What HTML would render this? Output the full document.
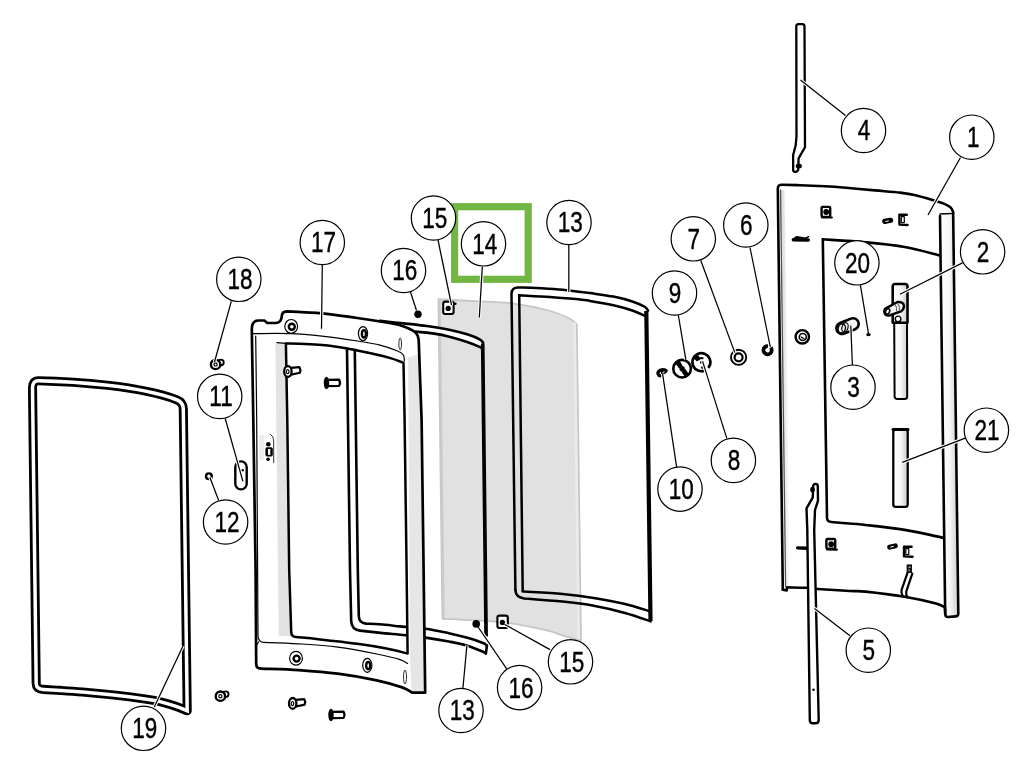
<!DOCTYPE html>
<html lang="en"><head><meta charset="utf-8"><title>Door assembly exploded view</title>
<style>
html,body{margin:0;padding:0;background:#fff}
body{width:1024px;height:781px;overflow:hidden}
svg{display:block}
.k{stroke:#000;stroke-width:2.6;stroke-linejoin:round;stroke-linecap:round}
.m{stroke:#000;stroke-width:1.9;stroke-linejoin:round;stroke-linecap:round}
.t{stroke:#000;stroke-width:1.2;stroke-linejoin:round;stroke-linecap:round}
.k:not([fill]),.m:not([fill]),.t:not([fill]),g.k>path:not([fill]){fill:none}
.lc{fill:#fff;stroke:#000;stroke-width:1.2}
.lt{font-family:"Liberation Sans",Arial,Helvetica,sans-serif;font-size:29px;text-anchor:middle;fill:#000;stroke:#000;stroke-width:.4px}
.ll{fill:none;stroke:#000;stroke-width:1.25}
.lh{fill:none;stroke:#fff;stroke-width:3.4}
#labels{filter:grayscale(1)}
</style></head><body>
<svg width="1024" height="781" viewBox="0 0 1024 781">
<defs><linearGradient id="gt" x1="0" x2="1" y1="0" y2="0"><stop offset="0" stop-color="#fff"/><stop offset=".5" stop-color="#f7f7f7"/><stop offset=".85" stop-color="#d9d9d9"/><stop offset="1" stop-color="#e6e6e6"/></linearGradient><linearGradient id="gl" x1="0" x2="1" y1="0" y2="0"><stop offset="0" stop-color="#d6d6d6"/><stop offset="1" stop-color="#fff"/></linearGradient></defs>
<rect width="1024" height="781" fill="#fff"/>
<g id="glass">
<path d="M438.4 299.2C444.5 299.5 462.4 300.5 475.0 301.2C487.6 301.9 501.5 302.1 513.8 303.6C526.1 305.2 539.5 308.0 548.9 310.5C558.3 313.0 565.4 316.4 570.0 318.7C574.6 321.0 575.7 323.5 576.8 324.5L581 640.8L581.0 640.8C577.6 639.8 566.3 636.5 560.6 634.8C554.9 633.0 555.7 632.3 546.9 630.3C538.1 628.3 518.5 624.4 507.8 622.8C497.2 621.2 493.9 621.5 483.0 620.8C472.1 620.1 449.2 619.1 442.4 618.8Z" fill="#e1e1e1" stroke="#c6c6c6" stroke-width="1.8" stroke-linejoin="round"/>
<path d="M574.6 322.5 L578.6 639" stroke="#ebebeb" stroke-width="2.6" fill="none"/>
<path d="M439.6 300 L443.6 618" stroke="#cbcbcb" stroke-width="2.2" fill="none"/>
</g>
<path d="M32.5 388 Q32.4 380.7 38.4 380.7 C75 381.4 140 386 176 399.5 Q183.2 402.2 183.3 408.6 L187.2 710.8 L187.2 710.8C185.3 710.1 180.5 707.9 176.0 706.4C171.5 704.9 165.2 702.9 160.0 701.6C154.8 700.4 152.7 700.0 145.0 698.9C137.3 697.8 124.2 696.1 113.8 695.0C103.3 693.9 91.5 692.8 82.5 692.0C73.5 691.2 66.6 690.8 60.0 690.4C53.4 690.0 45.8 689.6 43.0 689.4Q36.3 689 36.2 683.5 Z" fill="none" stroke="#000" stroke-width="9.1" stroke-linejoin="round"/>
<path d="M32.5 388 Q32.4 380.7 38.4 380.7 C75 381.4 140 386 176 399.5 Q183.2 402.2 183.3 408.6 L187.2 710.8 L187.2 710.8C185.3 710.1 180.5 707.9 176.0 706.4C171.5 704.9 165.2 702.9 160.0 701.6C154.8 700.4 152.7 700.0 145.0 698.9C137.3 697.8 124.2 696.1 113.8 695.0C103.3 693.9 91.5 692.8 82.5 692.0C73.5 691.2 66.6 690.8 60.0 690.4C53.4 690.0 45.8 689.6 43.0 689.4Q36.3 689 36.2 683.5 Z" fill="none" stroke="#fff" stroke-width="3.5" stroke-linejoin="miter" stroke-miterlimit="8"/>
<path fill="#fff" d="M380.0 320.9C383.9 321.3 395.6 322.5 403.4 323.4C411.2 324.2 419.1 324.9 426.9 326.0C434.7 327.1 443.5 328.5 450.3 329.9C457.1 331.3 463.0 333.0 467.9 334.6C472.8 336.2 477.1 338.0 479.6 339.3C482.1 340.6 482.5 342.1 483.1 342.6L482 348.6L479.6 346.9L467.9 342.2L450.3 336.9L432.7 333.4L415.2 331.6Z"/>
<path fill="#fff" d="M425.4 628.8C429.3 629.5 441.6 631.7 448.8 633.2C456.0 634.8 462.7 636.5 468.4 638.1C474.1 639.7 479.9 641.8 483.0 643.0C486.1 644.2 486.2 645.2 486.9 645.6L485.9 653.7L483 651.8L466.4 645.4L448.8 641.5L425.4 637.6Z"/>
<g id="g13l" class="k">
<path d="M347 349.5 L350 570 L351.2 621 Q351.5 629.6 360 630.6 L360.0 630.6C364.2 631.1 378.3 632.7 385.0 633.4C391.7 634.1 393.3 634.0 400.0 634.7C406.7 635.4 417.3 636.5 425.4 637.6C433.5 638.7 442.0 640.2 448.8 641.5C455.6 642.8 460.7 643.7 466.4 645.4C472.1 647.1 479.8 650.4 483.0 651.8C486.2 653.2 485.4 653.4 485.9 653.7 L486.9 645.6"/>
<path d="M354.8 351 L357.8 570 L358.8 616 Q359 623 366 623.6 L366.0 623.6C369.2 623.8 379.3 624.3 385.0 624.8C390.7 625.3 393.3 625.7 400.0 626.4C406.7 627.1 417.3 627.7 425.4 628.8C433.5 629.9 441.6 631.7 448.8 633.2C456.0 634.8 462.7 636.5 468.4 638.1C474.1 639.7 479.9 641.8 483.0 643.0C486.1 644.2 486.2 645.2 486.9 645.6"/>
<path d="M380.0 320.9C383.9 321.3 395.6 322.5 403.4 323.4C411.2 324.2 419.1 324.9 426.9 326.0C434.7 327.1 443.5 328.5 450.3 329.9C457.1 331.3 463.0 333.0 467.9 334.6C472.8 336.2 477.1 338.0 479.6 339.3C482.1 340.6 482.5 342.1 483.1 342.6"/>
<path d="M415.2 331.6C418.1 331.9 426.8 332.5 432.7 333.4C438.6 334.3 444.4 335.4 450.3 336.9C456.2 338.4 463.0 340.5 467.9 342.2C472.8 343.9 477.2 345.8 479.6 346.9C482.0 348.0 481.6 348.3 482.0 348.6"/>
</g>
<path d="M482.7 343.5 L486.1 636.6" fill="none" stroke="#000" stroke-width="3.7" stroke-linecap="butt"/>
<g id="frame17">
<path d="M275.4 343 L285.9 343.4 L291 636.4 L278.7 635.8 Z" fill="#e3e3e3"/>
<path d="M404 362 L409 357 L411.4 693 L407.6 653.4 Z" fill="#fff"/>
<path d="M408.2 357.5 L418.9 354 L425.2 692.7 L411.9 693 L410 661 L409.4 560 Z" fill="#e6e6e6"/>
<path class="k" style="stroke-width:2.7" d="M256.2 664 L255.6 570 L253.3 420 L251.8 330 Q251.7 320.6 258 320.5 L264.4 320.5 L267.3 323 L276 323 Q281.5 322.6 281.8 316 Q282 311.4 287 311.3 L287.0 311.3C292.8 311.6 310.3 312.2 322.0 313.3C333.7 314.4 346.4 316.5 357.2 318.0C367.9 319.5 379.4 321.3 386.5 322.5C393.6 323.7 396.2 324.2 400.0 325.2C403.8 326.2 406.8 327.5 409.3 328.7C411.8 329.9 413.8 331.0 415.2 332.2C416.6 333.4 417.4 335.4 417.8 336.0L418.7 340 L421.6 420 L423.6 570 L425.2 692.7 L411.9 692.6C410.3 691.7 408.0 689.4 402.1 687.4C396.2 685.4 387.4 682.7 376.7 680.4C366.0 678.1 350.7 675.4 337.7 673.7C324.7 672.0 311.4 671.0 298.6 670.1C285.8 669.2 267.3 668.9 261.0 668.6Q256.3 668.5 256.2 664 Z"/>
<path class="k" style="stroke-width:2.5" d="M285.9 343.4C289.1 343.5 299.0 343.6 305.0 343.9C311.0 344.1 316.2 344.3 322.0 344.9C327.8 345.4 334.1 346.3 340.0 347.2C345.9 348.1 352.1 349.4 357.2 350.4C362.3 351.4 365.0 352.0 370.7 353.3C376.4 354.6 385.7 356.8 391.2 358.4C396.7 360.0 401.4 362.1 403.5 362.8 L404.6 420 L406.6 570 L407.6 653.6C404.1 652.8 394.9 650.1 386.5 648.5C378.1 646.9 368.6 645.3 357.2 643.8C345.8 642.2 328.3 640.3 318.1 639.2C307.9 638.1 299.7 637.4 296.0 637.0Q291.3 636.6 291.2 632 L289.2 570 L287.3 420 Z"/>
<path class="t" d="M253.0 333.6C259.2 333.6 278.5 333.2 290.0 333.6C301.5 334.0 310.8 334.9 322.0 336.1C333.2 337.3 347.5 339.5 357.2 341.0C366.9 342.5 373.3 343.4 380.0 345.1C386.7 346.8 393.7 349.4 397.6 351.0C401.5 352.6 402.3 353.3 403.4 355.0C404.5 356.7 404.2 360.0 404.4 361.0"/>
<path class="t" d="M255.7 336 L256.7 420 L258 636 Q258.3 642.2 264 642.4 L264.0 642.4C269.8 642.6 286.3 643.0 298.6 643.8C310.9 644.6 324.7 645.4 337.7 647.1C350.7 648.8 366.3 651.9 376.7 654.0C387.1 656.1 394.9 658.0 400.0 659.6C405.1 661.2 406.3 662.9 407.6 663.5"/>
<path class="t" d="M277 342.6 L286 343.4"/>
<path class="t" d="M255.4 647 L258.6 642"/>
<ellipse class="t" cx="291.2" cy="326.4" rx="6.4" ry="6.9" fill="#fff"/><circle class="m" style="stroke-width:2.4" cx="291.8" cy="326.7" r="3"/>
<ellipse class="t" cx="363" cy="333.6" rx="4.6" ry="7" fill="#fff"/><ellipse class="m" style="stroke-width:2.4" cx="363.9" cy="333.90000000000003" rx="2" ry="3.6"/>
<ellipse class="t" style="stroke-width:.8" cx="400.2" cy="344" rx="1.3" ry="6"/>
<ellipse class="t" cx="296" cy="658.3" rx="6.4" ry="6.9" fill="#fff"/><circle class="m" style="stroke-width:2.4" cx="296.6" cy="658.5999999999999" r="3"/>
<ellipse class="t" cx="367.3" cy="665.3" rx="4.6" ry="7" fill="#fff"/><ellipse class="m" style="stroke-width:2.4" cx="368.2" cy="665.5999999999999" rx="2" ry="3.6"/>
<ellipse class="t" style="stroke-width:.8" cx="405" cy="677" rx="1.5" ry="7"/>
<rect x="259.2" y="435" width="5" height="25" rx="1.5" fill="#ededed"/>
<rect x="265.4" y="447.2" width="7.4" height="9.2" rx="1.6" fill="#000"/><rect x="268" y="449.1" width="2.3" height="5.7" fill="#fff"/><circle cx="268.3" cy="444.3" r="2.3" fill="#000"/><circle cx="268.1" cy="459.2" r="1.8" fill="#000"/>
<path class="t" style="stroke-width:.8" d="M270.4 434.3 Q273.8 436 273.7 441 L273.7 462.6"/>
</g>
<path class="m" style="stroke-width:2.2" fill="#fff" d="M287.9 368.2 L299.4 367.2 Q301.2 370.0 299.9 372.7 L288.9 375.1 Z"/><ellipse class="m" style="stroke-width:2.3" fill="#fff" cx="287.9" cy="371.5" rx="3.7" ry="5.4"/><ellipse class="t" cx="287.7" cy="371.7" rx="1.3" ry="2"/>
<path class="m" style="stroke-width:2.2" fill="#fff" d="M327 379.8 L339 379.6 Q341 383 339 386 L327 386.2 Z"/><ellipse cx="326.5" cy="383" rx="2.7" ry="6.2" fill="#000"/>
<path class="m" style="stroke-width:2.2" fill="#fff" d="M292.7 700.1 L304.2 699.1 Q306.0 701.9 304.7 704.6 L293.7 707.0 Z"/><ellipse class="m" style="stroke-width:2.3" fill="#fff" cx="292.7" cy="703.4" rx="3.7" ry="5.4"/><ellipse class="t" cx="292.5" cy="703.6" rx="1.3" ry="2"/>
<path class="m" style="stroke-width:2.2" fill="#fff" d="M331.5 711.8 L343.5 711.6 Q345.5 715 343.5 718 L331.5 718.2 Z"/><ellipse cx="331.0" cy="715" rx="2.7" ry="6.2" fill="#000"/>
<circle class="m" fill="#fff" cx="220.9" cy="362.4" r="2.8"/><circle class="m" style="stroke-width:2.4" fill="#fff" cx="215.6" cy="364.4" r="4.7"/><circle class="t" cx="215.6" cy="364.4" r="1.6"/>
<circle class="m" fill="#fff" cx="225.70000000000002" cy="694.2" r="2.8"/><circle class="m" style="stroke-width:2.4" fill="#fff" cx="220.4" cy="696.2" r="4.7"/><circle class="t" cx="220.4" cy="696.2" r="1.6"/>
<rect class="m" style="stroke-width:2.4" x="235.3" y="461.4" width="11.4" height="28" rx="5.6" fill="#fff"/>
<circle cx="242.6" cy="470.2" r="1.3" fill="#000"/>
<circle class="m" style="stroke-width:2.3" cx="208.9" cy="476.3" r="2.9" fill="#fff"/>
<g id="g13r" class="k" style="stroke-width:2.5">
<path d="M515.4 590 L511.5 294 Q511.6 287.4 518 287.4 L518.0 287.4C522.5 287.6 536.9 288.1 545.0 288.6C553.1 289.1 558.9 289.4 566.4 290.2C573.9 290.9 582.2 292.0 590.0 293.1C597.8 294.2 606.2 295.2 613.4 296.6C620.6 298.0 627.8 300.0 633.0 301.7C638.2 303.4 642.2 305.3 644.7 306.8C647.2 308.3 647.5 310.0 648.0 310.6"/>
<path d="M515.4 590 Q515.6 597.2 524 598.4 L524.0 598.4C530.4 598.9 550.9 600.4 562.5 601.6C574.1 602.8 583.3 603.9 593.8 605.8C604.2 607.7 615.5 610.4 625.0 613.0C634.5 615.6 646.3 620.0 650.6 621.4"/>
<path style="stroke-linejoin:miter" d="M522.7 591.3 L519.2 295.3 L519.2 295.3C524.3 295.6 539.9 296.3 550.0 297.0C560.1 297.7 573.3 298.9 580.0 299.5C586.7 300.1 584.4 299.9 590.0 300.9C595.6 301.8 606.2 303.6 613.4 305.2C620.6 306.8 627.6 308.8 633.0 310.7C638.4 312.6 643.8 315.4 646.0 316.4"/>
<path style="stroke-linejoin:miter" d="M522.7 591.3 L524.5 591.5C530.8 591.9 551.0 592.8 562.5 593.9C574.0 595.0 583.3 596.2 593.8 597.9C604.2 599.6 615.8 601.8 625.0 604.0C634.2 606.2 645.0 609.8 649.0 611.0"/>
</g>
<path d="M646.3 311 L650.5 621" fill="none" stroke="#000" stroke-width="4.2"/>
<rect class="m" style="stroke-width:2.1" x="443.2" y="301.6" width="10.4" height="12.4" rx="2" fill="#fff"/><circle cx="448.2" cy="308.40000000000003" r="2.6" fill="#000"/>
<circle cx="455.3" cy="303.8" r="1.3" fill="#000"/>
<rect class="m" style="stroke-width:2.1" x="497.4" y="615.6" width="10.4" height="12.4" rx="2" fill="#fff"/><circle cx="502.4" cy="622.4" r="2.6" fill="#000"/>
<circle cx="767.6" cy="350.2" r="4.1" fill="none" stroke="#000" stroke-width="3.8" stroke-dasharray="22 3.8" transform="rotate(-40 767.6 350.2)"/>
<circle class="m" cx="738.6" cy="357.3" r="7.6" fill="#fff"/><circle cx="738.6" cy="357.3" r="4" fill="#fff" stroke="#000" stroke-width="2.2"/>
<circle cx="701.3" cy="362.2" r="9" fill="#fff" stroke="#000" stroke-width="2.7" stroke-dasharray="52 4.5" transform="rotate(66 701.3 362.2)"/>
<path d="M693.6 358.5 Q694.2 354.6 697.8 354.4 L700.6 358.8 L697 361.6 Z" fill="#000"/>
<path d="M698.4 360 q2 -3 5 -1.4 M700 362.6 l3.6 0.2" fill="none" stroke="#000" stroke-width="2"/><circle cx="702.4" cy="367.6" r="1.3" fill="#000"/>
<circle cx="682.1" cy="368.7" r="8.8" fill="#fff" stroke="#000" stroke-width="2.6"/>
<path d="M675.6 363.6 Q676.6 360.8 679.4 360.6 L682.6 365.6 L679 368.6 Z M688.6 373.8 Q687.6 376.6 684.8 376.8 L681.6 371.8 L685.2 368.8 Z" fill="#000"/><circle cx="682.1" cy="368.7" r="2.7" fill="#000"/>
<path d="M666.2 370.6 Q663 368.6 659.6 370.6 Q656.8 372.6 658.6 375.2 Q660.6 376.6 662.2 374.6" fill="none" stroke="#000" stroke-width="3.1" stroke-linecap="round"/>
<ellipse cx="663.9" cy="371.8" rx="2.4" ry="1.5" fill="none" stroke="#000" stroke-width="1.6" transform="rotate(-25 663.9 371.8)"/>
<path class="k" style="stroke-width:2.3" fill="#fff" d="M796.3 26.4 Q796.3 24.1 798.6 24.1 L802.2 24.1 Q804.5 24.1 804.5 26.4 L805 147.3 L798.6 158.4 L798.2 170 Q795.6 173.6 793.2 170.7 L793.1 155.3 L795.7 145.3 L796.5 136 Z"/>
<ellipse cx="798.8" cy="166" rx="3.1" ry="2.5" fill="#000"/>
<g id="door">
<path d="M780.4 190 L784.6 190 L790 587 L785.6 587 Z" fill="url(#gl)"/>
<path d="M941 216 L953 214 L958.2 616 L945.4 617 Z" fill="url(#gt)"/>
<path class="k" d="M782.8 589.8 L777.8 188.6 Q777.8 184.8 781.9 184.8 L781.9 184.8C784.9 184.9 792.8 185.0 800.0 185.2C807.2 185.4 817.3 185.8 825.0 186.2C832.7 186.6 837.7 187.0 846.0 187.7C854.3 188.4 866.0 189.6 875.0 190.4C884.0 191.2 893.2 191.8 900.0 192.6C906.8 193.4 910.0 193.9 915.6 195.2C921.2 196.5 928.9 198.9 933.6 200.3C938.3 201.7 940.9 202.4 943.8 203.6C946.6 204.8 949.0 206.2 950.6 207.6C952.2 209.0 952.8 211.3 953.2 212.0L953.2 217 L958.3 613.5 Q958.3 616.3 955.5 616.4 L948 617 Q945.4 617 945.3 614.5 L944.9 607.4"/>
<path class="k" d="M940 216 L945.2 614"/>
<path class="m" style="stroke-width:1.5" d="M940 214 L952 213.6"/>
<path class="t" style="stroke:#555;stroke-width:1.3" d="M780.5 190 L785.6 586.8"/>
<path class="k" d="M782.8 589.8 L786.6 590.4 L787.2 587.4 L787.2 587.4C790.3 587.5 800.8 587.5 805.8 587.8C810.8 588.1 810.0 588.5 817.4 589.0C824.8 589.5 842.0 590.6 850.0 591.0C858.0 591.4 856.6 590.6 865.7 591.6C874.8 592.6 893.0 594.7 904.7 596.7C916.4 598.7 929.3 601.7 936.0 603.5C942.7 605.3 943.4 606.8 944.9 607.4"/>
<path class="k" style="stroke-linejoin:miter" d="M939.4 255.3C933.6 253.9 917.0 249.2 904.7 247.0C892.4 244.8 879.4 243.6 865.7 242.3C852.1 241.0 829.9 239.8 822.8 239.3 L827 518 Q827.1 521.7 831.5 522 L831.5 522.0C832.9 522.1 834.3 522.3 840.0 522.8C845.7 523.3 854.9 523.8 865.7 525.0C876.5 526.2 891.8 527.8 904.7 529.9C917.6 532.0 936.8 536.5 943.2 537.8"/>
<rect class="m" style="stroke-width:2.4" x="821.6" y="206.9" width="8.6" height="10" rx="1.2" fill="#fff"/><circle cx="826.2" cy="212" r="2.9" fill="#000"/><path class="m" style="stroke-width:2.2" d="M822 217.3 L831.8 217.5"/>
<path d="M794 238.6 L796.4 236.9 L805.6 238.2 L808.6 236.6" class="m" style="stroke-width:1.6"/><path d="M793.4 239.8 L808.2 240" stroke="#000" stroke-width="3.6" stroke-linecap="round"/>
<path d="M884.8 221.4 L890.6 220.3" stroke="#000" stroke-width="5.2" stroke-linecap="round"/><path d="M885.8 221.4 L888.4 220.9" stroke="#fff" stroke-width="1" stroke-linecap="round"/>
<path class="m" style="stroke-width:2.4" d="M906.8 214.8 L899.4 214.8 L899.4 224.6 L907.6 225"/><rect class="t" x="901.3" y="216.6" width="3" height="6" />
<rect class="m" style="stroke-width:2.4" x="826.4" y="539" width="8.8" height="9.8" rx="1.2" fill="#fff"/><circle cx="831.2" cy="544.2" r="2.9" fill="#000"/><path class="m" style="stroke-width:2.2" d="M827 549.5 L836.8 549.7"/>
<path d="M797.6 547.9 L806.5 548.2" stroke="#000" stroke-width="3.4" stroke-linecap="round"/>
<path d="M889.6 547.2 L895.4 545.8" stroke="#000" stroke-width="4.8" stroke-linecap="round"/><path d="M890.6 547.1 L893.4 546.4" stroke="#fff" stroke-width="1" stroke-linecap="round"/>
<path class="m" style="stroke-width:2.4" d="M911.6 546.8 L904 546.8 L904 556.4 L912.6 556.8"/><rect class="t" x="905.8" y="548.6" width="3" height="6" />
<rect x="906.6" y="564.4" width="5.4" height="8.6" fill="#111"/><rect x="908.6" y="566.6" width="2" height="1.4" fill="#aaa"/><rect x="908.4" y="569.4" width="1.6" height="1.8" fill="#888"/>
<path class="m" style="stroke-width:2.2" d="M907.5 572.8 L901.5 590.2 Q901 593.2 902.8 596 M912.3 573.6 L906.3 591.4 Q905.8 594.6 907.3 597.2"/>
<circle class="m" style="stroke-width:2.4" cx="802.3" cy="336.8" r="6.7" fill="#fff"/><circle class="m" style="stroke-width:1.6" cx="802.8" cy="337" r="3.5"/><path d="M802.6 337 m-2 -1 a3 3 0 0 0 4.4 2.6 Z" fill="#000"/>
<path class="m" style="stroke-width:2" fill="url(#gt)" d="M894.2 321 L894.6 396.5 Q894.7 399 897.4 399 L904.4 399 Q907.2 399 907.2 396.5 L907 321 Z"/>
<path class="k" style="stroke-width:2.6" fill="url(#gt)" d="M892.7 322.8 L892.7 286.5 Q892.7 284 895.2 284 L905 284 Q907.5 284 907.5 286.5 L907.5 322.8 Z"/>
<circle class="m" style="stroke-width:1.4" cx="898.1" cy="318.9" r="2.8" fill="#fff"/>
<path class="k" style="stroke-width:2.5" fill="#f4f4f4" d="M885.9 308.3 L897.4 302 Q903.6 301.4 904 306 Q903.8 309.8 900.8 311.3 L890.4 315.2 Q885.6 316.2 884.5 312.8 Q883.9 309.8 885.9 308.3 Z"/>
<path class="t" style="stroke:#666" d="M895.2 304.6 Q897 307 896.6 311 M898 303.8 Q899.8 306 899.4 310"/>
<ellipse cx="887.6" cy="311.4" rx="2" ry="2.8" transform="rotate(20 887.6 311.4)" fill="#fff" stroke="#000" stroke-width="1.7"/>
<path d="M842.1 328.3 L853 323.9" stroke="#000" stroke-width="14" stroke-linecap="round"/><path d="M842.1 328.3 L853 323.9" stroke="#f2f2f2" stroke-width="8.8" stroke-linecap="round"/>
<ellipse class="t" cx="845" cy="327.4" rx="3" ry="4.8" transform="rotate(15 845 327.4)"/>
<ellipse cx="841.8" cy="328.4" rx="3.6" ry="4.6" transform="rotate(15 841.8 328.4)" fill="none" stroke="#000" stroke-width="1.4"/>
<rect class="k" style="stroke-width:2.3" x="893.3" y="429.6" width="14.4" height="77.2" rx="2.4" fill="url(#gt)"/><path d="M893 429.6 L908 429.6" stroke="#000" stroke-width="3" stroke-linecap="round"/>
</g>
<path class="k" style="stroke-width:2.4" fill="#fff" d="M813.2 486 Q813.6 483.6 816 484 Q817.8 484.2 817.8 486.4 L818 500.7 L815 510 L814.2 530 L818.7 720 Q818.7 723.3 815.5 723.3 L812.5 723.3 Q809.9 723.3 809.8 720 L807.3 530 L806.5 508.4 L812.7 497.6 L813 492 Z"/>
<ellipse cx="812.5" cy="489.6" rx="2.3" ry="2.9" fill="#000"/><circle cx="813.5" cy="689.8" r="1.3" fill="#000"/>
<rect x="454.6" y="206.7" width="73.6" height="72.6" fill="none" stroke="#72b743" stroke-width="7.2"/>
<g id="labels">
<path class="lh" d="M960.5 157.5L928 215"/><path class="ll" d="M960.5 157.5L928 215"/>
<circle class="lc" cx="971.8" cy="137.2" r="22.2"/><text class="lt" transform="translate(973.15 147.10) scale(0.776 1)">1</text>
<path class="lh" d="M962.5 262.9L900 294.3"/><path class="ll" d="M962.5 262.9L900 294.3"/>
<circle class="lc" cx="982.6" cy="251.8" r="22.2"/><text class="lt" transform="translate(983.10 261.70) scale(0.776 1)">2</text>
<path class="lh" d="M852.4 365.3L850.8 325.6"/><path class="ll" d="M852.4 365.3L850.8 325.6"/>
<circle class="lc" cx="853" cy="387.2" r="22.2"/><text class="lt" transform="translate(853.50 397.10) scale(0.776 1)">3</text>
<path class="lh" d="M845.5 115.5L800.5 80"/><path class="ll" d="M845.5 115.5L800.5 80"/>
<circle class="lc" cx="863.5" cy="130.5" r="22.2"/><text class="lt" transform="translate(864.00 140.40) scale(0.776 1)">4</text>
<path class="lh" d="M850 635.7L814.5 608.4"/><path class="ll" d="M850 635.7L814.5 608.4"/>
<circle class="lc" cx="868.3" cy="650.2" r="22.2"/><text class="lt" transform="translate(868.80 660.10) scale(0.776 1)">5</text>
<path class="lh" d="M750 247.5L770.3 347"/><path class="ll" d="M750 247.5L770.3 347"/>
<circle class="lc" cx="745.8" cy="225" r="22.2"/><text class="lt" transform="translate(746.30 234.90) scale(0.776 1)">6</text>
<path class="lh" d="M700.8 260.5L734.8 352.6"/><path class="ll" d="M700.8 260.5L734.8 352.6"/>
<circle class="lc" cx="693.3" cy="238.8" r="22.2"/><text class="lt" transform="translate(693.80 248.70) scale(0.776 1)">7</text>
<path class="lh" d="M726.8 438.4L702.6 361.4"/><path class="ll" d="M726.8 438.4L702.6 361.4"/>
<circle class="lc" cx="733.4" cy="460.4" r="22.2"/><text class="lt" transform="translate(733.90 470.30) scale(0.776 1)">8</text>
<path class="lh" d="M678.3 315L685.8 359.4"/><path class="ll" d="M678.3 315L685.8 359.4"/>
<circle class="lc" cx="674.5" cy="293" r="22.2"/><text class="lt" transform="translate(675.00 302.90) scale(0.776 1)">9</text>
<path class="lh" d="M676.6 466.9L662.6 373.8"/><path class="ll" d="M676.6 466.9L662.6 373.8"/>
<circle class="lc" cx="680" cy="489.1" r="22.2"/><text class="lt" transform="translate(681.30 499.00) scale(0.776 1)">10</text>
<path class="lh" d="M225.2 418.5L242.9 481.4"/><path class="ll" d="M225.2 418.5L242.9 481.4"/>
<circle class="lc" cx="219.7" cy="396.4" r="22.2"/><text class="lt" transform="translate(221.05 406.30) scale(0.776 1)">11</text>
<path class="lh" d="M218.7 500.5L210 477.7"/><path class="ll" d="M218.7 500.5L210 477.7"/>
<circle class="lc" cx="225.6" cy="522" r="22.2"/><text class="lt" transform="translate(226.90 531.90) scale(0.776 1)">12</text>
<path class="lh" d="M568.8 244.5L568.8 292"/><path class="ll" d="M568.8 244.5L568.8 292"/>
<circle class="lc" cx="569" cy="222.5" r="22.2"/><text class="lt" transform="translate(570.30 232.40) scale(0.776 1)">13</text>
<path class="lh" d="M462.9 688.3L466.9 645.4"/><path class="ll" d="M462.9 688.3L466.9 645.4"/>
<circle class="lc" cx="461" cy="710.5" r="22.2"/><text class="lt" transform="translate(462.30 720.40) scale(0.776 1)">13</text>
<path class="lh" d="M482.3 266.8L479.3 317.5"/><path class="ll" d="M482.3 266.8L479.3 317.5"/>
<circle class="lc" cx="483.5" cy="243.8" r="22.2"/><text class="lt" transform="translate(484.80 253.70) scale(0.776 1)">14</text>
<path class="lh" d="M438 240L451.5 305"/><path class="ll" d="M438 240L451.5 305"/>
<circle class="lc" cx="433.5" cy="218" r="22.2"/><text class="lt" transform="translate(434.80 227.90) scale(0.776 1)">15</text>
<path class="lh" d="M550 649.6L504.4 624.3"/><path class="ll" d="M550 649.6L504.4 624.3"/>
<circle class="lc" cx="570.5" cy="661.8" r="22.2"/><text class="lt" transform="translate(571.80 671.70) scale(0.776 1)">15</text>
<path class="lh" d="M410.5 292L416.5 310.5"/><path class="ll" d="M410.5 292L416.5 310.5"/>
<circle class="lc" cx="403.5" cy="270.5" r="22.2"/><text class="lt" transform="translate(404.80 280.40) scale(0.776 1)">16</text>
<path class="lh" d="M506.7 668.8L477.4 626"/><path class="ll" d="M506.7 668.8L477.4 626"/>
<circle class="lc" cx="519.6" cy="687.6" r="22.2"/><text class="lt" transform="translate(520.90 697.50) scale(0.776 1)">16</text>
<path class="lh" d="M322.3 265L321.5 328.8"/><path class="ll" d="M322.3 265L321.5 328.8"/>
<circle class="lc" cx="322.3" cy="242.5" r="22.2"/><text class="lt" transform="translate(323.60 252.40) scale(0.776 1)">17</text>
<path class="lh" d="M231.3 301.3L214.5 362"/><path class="ll" d="M231.3 301.3L214.5 362"/>
<circle class="lc" cx="238.8" cy="279.3" r="22.2"/><text class="lt" transform="translate(240.10 289.20) scale(0.776 1)">18</text>
<path class="lh" d="M154.3 707L183 646"/><path class="ll" d="M154.3 707L183 646"/>
<circle class="lc" cx="143.5" cy="728.3" r="22.2"/><text class="lt" transform="translate(144.80 738.20) scale(0.776 1)">19</text>
<path class="lh" d="M860.4 285.2L868.5 333.7"/><path class="ll" d="M860.4 285.2L868.5 333.7"/>
<circle class="lc" cx="856.9" cy="262.8" r="22.2"/><text class="lt" transform="translate(857.40 272.70) scale(0.776 1)">20</text>
<path class="lh" d="M965.2 438.2L902.3 462.3"/><path class="ll" d="M965.2 438.2L902.3 462.3"/>
<circle class="lc" cx="986.4" cy="430.2" r="22.2"/><text class="lt" transform="translate(987.00 440.10) scale(0.776 1)">21</text>
</g>
<ellipse cx="868.5" cy="334.6" rx="2.3" ry="1.6" fill="#000"/>
<circle cx="418" cy="314.3" r="3.7" fill="#000"/>
<circle cx="476.2" cy="623.9" r="3.8" fill="#000"/>
</svg>
</body></html>
